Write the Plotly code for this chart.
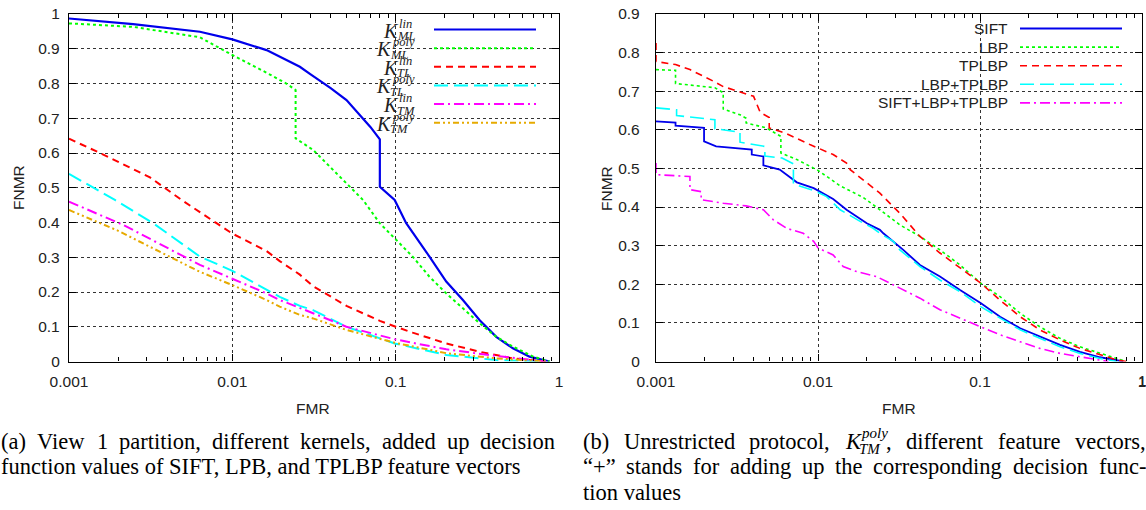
import plotly.graph_objects as go

W, H = 1146, 510


def px(x):
    return x / W


def py(y):
    return 1 - y / H


# ---------------- data: left panel (a) ----------------
fmr_ml_lin = [0.001, 0.00247, 0.00633, 0.01, 0.0162, 0.0259, 0.03, 0.04, 0.05, 0.06, 0.07, 0.08, 0.08,
              0.0986, 0.116, 0.161, 0.204, 0.258, 0.327, 0.413, 0.522, 0.66, 0.875]
fnmr_ml_lin = [0.987, 0.971, 0.949, 0.927, 0.896, 0.848, 0.827, 0.787, 0.7525, 0.71, 0.675, 0.639, 0.503,
               0.465, 0.398, 0.302, 0.230, 0.177, 0.119, 0.071, 0.038, 0.014, 0.0]

fmr_ml_poly = [0.001, 0.00247, 0.00633, 0.01, 0.0162, 0.0214, 0.0244, 0.0244, 0.0312, 0.0499, 0.0631,
               0.0799, 0.0986, 0.127, 0.161, 0.204, 0.258, 0.327, 0.413, 0.522, 0.695, 0.875]
fnmr_ml_poly = [0.973, 0.963, 0.933, 0.882, 0.831, 0.80, 0.781, 0.642, 0.609, 0.513, 0.465,
                0.398, 0.355, 0.302, 0.244, 0.196, 0.153, 0.110, 0.071, 0.043, 0.014, 0.0]

fmr_tl_lin = [0.001, 0.00155, 0.00313, 0.00489, 0.008, 0.01, 0.0162, 0.0195, 0.0259, 0.0312, 0.05,
              0.08, 0.1, 0.127, 0.204, 0.327, 0.522, 0.83]
fnmr_tl_lin = [0.641, 0.60, 0.53, 0.465, 0.398, 0.368, 0.318, 0.289, 0.25, 0.217, 0.16,
               0.117, 0.10, 0.083, 0.052, 0.028, 0.009, 0.0]

fmr_tl_poly = [0.001, 0.00191, 0.00328, 0.00633, 0.01, 0.0162, 0.0195, 0.0259, 0.0312, 0.0499, 0.0986,
               0.204, 0.413, 0.83]
fnmr_tl_poly = [0.54, 0.465, 0.398, 0.302, 0.261, 0.206, 0.186, 0.16, 0.148, 0.10, 0.052,
                0.019, 0.004, 0.0]

fmr_tm_lin = [0.001, 0.00215, 0.00633, 0.01, 0.0162, 0.0195, 0.0259, 0.0312, 0.0499, 0.0986, 0.204,
              0.413, 0.83]
fnmr_tm_lin = [0.46, 0.393, 0.278, 0.239, 0.196, 0.177, 0.153, 0.139, 0.100, 0.064, 0.035,
               0.016, 0.0]

fmr_tm_poly = [0.001, 0.00196, 0.00633, 0.01, 0.0162, 0.0195, 0.0259, 0.0312, 0.0499, 0.0986, 0.204,
               0.413, 0.83]
fnmr_tm_poly = [0.436, 0.378, 0.258, 0.22, 0.177, 0.158, 0.134, 0.124, 0.091, 0.054, 0.024,
                0.009, 0.0]

# ---------------- data: right panel (b) ----------------
fmr_sift = [0.001, 0.00132, 0.00132, 0.00198, 0.00198, 0.00235, 0.0039, 0.0039, 0.0046, 0.0046, 0.0058,
            0.0066, 0.0074, 0.0094, 0.0124, 0.0150, 0.0182, 0.020, 0.0241, 0.0253, 0.0336, 0.0426,
            0.0566, 0.0753, 0.1014, 0.133, 0.177, 0.234, 0.312, 0.414, 0.551, 0.767]
fnmr_sift = [0.622, 0.619, 0.611, 0.605, 0.570, 0.557, 0.549, 0.536, 0.531, 0.508, 0.497,
             0.479, 0.464, 0.449, 0.421, 0.393, 0.371, 0.358, 0.341, 0.332, 0.289, 0.250,
             0.220, 0.185, 0.151, 0.116, 0.086, 0.064, 0.043, 0.025, 0.011, 0.0]

fmr_lbp = [0.001, 0.00132, 0.00132, 0.00231, 0.0026, 0.0026, 0.0033, 0.0036, 0.0036, 0.0048, 0.0059,
           0.0059, 0.0074, 0.01, 0.0137, 0.019, 0.0241, 0.032, 0.0426, 0.0566, 0.0753, 0.101, 0.133,
           0.177, 0.234, 0.312, 0.414, 0.551, 0.74, 0.8]
fnmr_lbp = [0.756, 0.754, 0.720, 0.709, 0.696, 0.654, 0.639, 0.630, 0.618, 0.605, 0.583,
            0.540, 0.523, 0.495, 0.455, 0.425, 0.393, 0.354, 0.324, 0.289, 0.250, 0.203, 0.168,
            0.125, 0.090, 0.060, 0.038, 0.021, 0.004, 0.0]

fmr_tplbp = [0.001, 0.001, 0.00132, 0.00162, 0.00226, 0.0026, 0.004, 0.0044, 0.0050, 0.0050, 0.0064,
             0.0089, 0.0124, 0.015, 0.0158, 0.019, 0.0241, 0.032, 0.0426, 0.0566, 0.0753, 0.101,
             0.133, 0.177, 0.234, 0.312, 0.414, 0.551, 0.7, 0.8]
fnmr_tplbp = [0.825, 0.777, 0.769, 0.756, 0.726, 0.712, 0.687, 0.645, 0.632, 0.605, 0.590,
              0.562, 0.536, 0.514, 0.497, 0.471, 0.436, 0.384, 0.324, 0.281, 0.242, 0.203,
              0.159, 0.116, 0.082, 0.056, 0.034, 0.017, 0.004, 0.0]

fmr_lbp_tplbp = [0.001, 0.00134, 0.00134, 0.00231, 0.00231, 0.0033, 0.0033, 0.0047, 0.0047, 0.006,
                 0.00705, 0.00705, 0.0085, 0.0098, 0.0113, 0.0137, 0.0182, 0.0219, 0.0241, 0.0292,
                 0.032, 0.0426, 0.0566, 0.0753, 0.101, 0.133, 0.177, 0.234, 0.312, 0.414, 0.551, 0.70]
fnmr_lbp_tplbp = [0.657, 0.652, 0.637, 0.626, 0.603, 0.594, 0.568, 0.557, 0.532, 0.527,
                  0.512, 0.460, 0.449, 0.440, 0.427, 0.393, 0.363, 0.345, 0.332, 0.311,
                  0.289, 0.246, 0.211, 0.181, 0.142, 0.112, 0.082, 0.060, 0.038, 0.021, 0.008, 0.0]

fmr_all = [0.001, 0.001, 0.00162, 0.00162, 0.0019, 0.0019, 0.0026, 0.0036, 0.0046, 0.0053, 0.0064,
           0.0081, 0.0094, 0.01, 0.0124, 0.0143, 0.0173, 0.023, 0.032, 0.0426, 0.0566, 0.0753,
           0.101, 0.133, 0.177, 0.234, 0.312, 0.414, 0.551, 0.62]
fnmr_all = [0.514, 0.484, 0.479, 0.445, 0.440, 0.419, 0.410, 0.403, 0.393, 0.367, 0.345,
            0.332, 0.311, 0.294, 0.276, 0.246, 0.233, 0.220, 0.190, 0.164, 0.134, 0.112,
            0.090, 0.069, 0.051, 0.034, 0.021, 0.012, 0.004, 0.0]

x_tickvals = [0.001, 0.01, 0.1, 1]
x_ticktext = ["0.001", "0.01", "0.1", "1"]
left_yticks = [0, 0.1, 0.2, 0.3, 0.4, 0.5, 0.6, 0.7, 0.8, 0.9, 1]
left_yticktext = ["0", "0.1", "0.2", "0.3", "0.4", "0.5", "0.6", "0.7", "0.8", "0.9", "1"]
right_yticks = [0, 0.1, 0.2, 0.3, 0.4, 0.5, 0.6, 0.7, 0.8, 0.9]
right_yticktext = ["0", "0.1", "0.2", "0.3", "0.4", "0.5", "0.6", "0.7", "0.8", "0.9"]

# (sup, sub) of the K symbols in legend (a)
left_sup = ["lin", "poly", "lin", "poly", "lin", "poly"]
left_sub = ["ML", "ML", "TL", "TL", "TM", "TM"]
right_names = ["SIFT", "LBP", "TPLBP", "LBP+TPLBP", "SIFT+LBP+TPLBP"]

caption_a = ["(a) View 1 partition, different kernels, added up decision",
             "function values of SIFT, LPB, and TPLBP feature vectors"]
caption_b = ["(b) Unrestricted protocol,", "different feature vectors,",
             "\u201c+\u201d stands for adding up the corresponding decision func-",
             "tion values"]

# ---------------- styles ----------------
BLUE = "rgb(0,0,235)"
GREEN = "rgb(0,255,0)"
RED = "rgb(255,0,0)"
CYAN = "rgb(0,255,255)"
MAGENTA = "rgb(255,0,255)"
GOLD = "rgb(230,170,0)"
styles = [
    (BLUE, "solid", 2.2),
    (GREEN, "3px,3px", 2),
    (RED, "7px,5px", 2),
    (CYAN, "14px,6px", 2),
    (MAGENTA, "10px,4px,2px,4px", 2),
    (GOLD, "6px,3px,2px,3px,2px,3px", 2),
]

left_data = [(fmr_ml_lin, fnmr_ml_lin), (fmr_ml_poly, fnmr_ml_poly), (fmr_tl_lin, fnmr_tl_lin),
             (fmr_tl_poly, fnmr_tl_poly), (fmr_tm_lin, fnmr_tm_lin), (fmr_tm_poly, fnmr_tm_poly)]
right_data = [(fmr_sift, fnmr_sift), (fmr_lbp, fnmr_lbp), (fmr_tplbp, fnmr_tplbp),
              (fmr_lbp_tplbp, fnmr_lbp_tplbp), (fmr_all, fnmr_all)]

fig = go.Figure()
for i, (xs, ys) in enumerate(left_data):
    c, d, w = styles[i]
    fig.add_trace(go.Scatter(x=xs, y=ys, mode="lines", line=dict(color=c, dash=d, width=w),
                             xaxis="x", yaxis="y", showlegend=False, hoverinfo="skip"))
for i, (xs, ys) in enumerate(right_data):
    c, d, w = styles[i]
    fig.add_trace(go.Scatter(x=xs, y=ys, mode="lines", line=dict(color=c, dash=d, width=w - 0.4),
                             xaxis="x2", yaxis="y2", showlegend=False, hoverinfo="skip"))

minor_vals = [m * 10 ** e for e in (-3, -2, -1) for m in range(2, 10)]
sans = "Liberation Sans, Arial, sans-serif"
serif = "Liberation Serif, Times New Roman, serif"
tickfont = dict(family=sans, size=15.5, color="#222")


def xaxis_cfg(domain, anchor):
    return dict(type="log", range=[-3, 0], domain=domain, anchor=anchor, automargin=False,
                tickmode="array", tickvals=x_tickvals, ticktext=x_ticktext,
                ticks="inside", ticklen=7, tickcolor="black", tickwidth=1,
                minor=dict(ticks="inside", ticklen=4, tickcolor="black", tickvals=minor_vals, showgrid=False),
                showline=True, linecolor="black", linewidth=1.3, mirror="ticks",
                showgrid=True, gridcolor="#333", griddash="dot", gridwidth=1,
                zeroline=False, tickfont=tickfont, ticklabelstandoff=6, ticklabeloverflow="allow")


def yaxis_cfg(domain, anchor, rng, vals, text, standoff):
    return dict(range=rng, domain=domain, anchor=anchor, automargin=False,
                tickmode="array", tickvals=vals, ticktext=text,
                ticks="inside", ticklen=7, tickcolor="black",
                showline=True, linecolor="black", linewidth=1.3, mirror="ticks",
                showgrid=True, gridcolor="#333", griddash="dot", gridwidth=1,
                zeroline=False, tickfont=tickfont, ticklabelstandoff=standoff)


ydom = [py(361.5), py(14)]
fig.update_layout(
    width=W, height=H, margin=dict(l=0, r=0, t=0, b=0, autoexpand=False),
    paper_bgcolor="white", plot_bgcolor="white",
    xaxis=xaxis_cfg([px(69), px(559)], "y"),
    yaxis=yaxis_cfg(ydom, "x", [0, 1], left_yticks, left_yticktext, 5),
    xaxis2=xaxis_cfg([px(656), px(1142)], "y2"),
    yaxis2=yaxis_cfg(ydom, "x2", [0, 0.9], right_yticks, right_yticktext, 12),
)

shapes = []
annotations = []
# key boxes hiding the grid
shapes.append(dict(type="rect", xref="paper", yref="paper", x0=px(373), x1=px(547), y0=py(131), y1=py(15),
                   fillcolor="white", line=dict(width=0), layer="between"))
shapes.append(dict(type="rect", xref="paper", yref="paper", x0=px(852), x1=px(1141), y0=py(113), y1=py(15),
                   fillcolor="white", line=dict(width=0), layer="between"))


def ann(text, x, y, anchor="left", family=serif, size=22, color="black", angle=0, yanchor="middle"):
    annotations.append(dict(text=text, x=px(x), y=py(y), xref="paper", yref="paper", textangle=angle,
                            xanchor=anchor, yanchor=yanchor, showarrow=False, borderpad=0, borderwidth=0,
                            font=dict(family=family, size=size, color=color)))


# legend (a)
for i in range(6):
    yc = 29.5 + 18.65 * i
    c, d, w = styles[i]
    shapes.append(dict(type="line", xref="paper", yref="paper", x0=px(434), x1=px(536), y0=py(yc), y1=py(yc),
                       line=dict(color=c, dash=d, width=w)))
    kr = 399 if left_sup[i] == "lin" else 392
    ann("<i>K</i>", kr, yc + 1, anchor="right", size=20, color="#222")
    ann("<i>%s</i>" % left_sup[i], kr, yc - 6, size=12.5, color="#222")
    ann("<i>%s</i>" % left_sub[i], kr - 2, yc + 6.5, size=12.5, color="#222")

# legend (b)
for i in range(5):
    yc = 28.5 + 18.6 * i
    c, d, w = styles[i]
    shapes.append(dict(type="line", xref="paper", yref="paper", x0=px(1020), x1=px(1122), y0=py(yc), y1=py(yc),
                       line=dict(color=c, dash=d, width=w - 0.4)))
    ann(right_names[i], 1008, yc, anchor="right", family=sans, size=15.5, color="#222")

# axis titles
for xx in (18, 606):
    ann("FNMR", xx, 188, anchor="center", family=sans, size=15.5, color="#222", angle=-90)
for xx in (313, 899):
    ann("FMR", xx, 408, anchor="center", family=sans, size=15.5, color="#222")

# last tick label of panel (b), which plotly hides at the page edge
ann(x_ticktext[-1], 1142, 380, anchor="center", family=sans, size=15.5, color="#222")

# ---- captions with LaTeX-like justification (Times metrics) ----
TW = {" ": 250, "(": 333, ")": 333, ",": 250, "-": 333, "+": 564, "\u201c": 444, "\u201d": 444,
      "a": 444, "b": 500, "c": 444, "d": 500, "e": 444, "f": 333, "g": 500, "h": 500, "i": 278, "j": 278,
      "k": 500, "l": 278, "m": 778, "n": 500, "o": 500, "p": 500, "q": 500, "r": 333, "s": 389, "t": 278,
      "u": 500, "v": 500, "w": 722, "x": 500, "y": 500, "z": 444,
      "A": 722, "B": 667, "C": 667, "D": 722, "E": 611, "F": 556, "G": 722, "H": 722, "I": 333, "L": 611,
      "M": 889, "N": 722, "O": 722, "P": 556, "R": 667, "S": 556, "T": 611, "U": 722, "V": 722}
CAP = 22.5


def tw(s, size=CAP):
    return sum(TW.get(ch, 500) for ch in s) * size / 1000.0


def justify(words, x0, x1, y):
    widths = [tw(wd) for wd in words]
    gap = (x1 - x0 - sum(widths)) / (len(words) - 1)
    x = x0
    for k, (wd, wdt) in enumerate(zip(words, widths)):
        if k == len(words) - 1:
            ann(wd, x1, y, anchor="right", size=CAP)
        else:
            ann(wd, x, y, size=CAP)
        x += wdt + gap


line_y = [441, 466, 492]
justify(caption_a[0].split(" "), 1, 555, line_y[0])
ann(caption_a[1], 1, line_y[1], size=CAP)

# (b) line 1 with the math symbol K_TM^poly
wb = caption_b[0].split(" ") + ["MATH"] + caption_b[1].split(" ")
k_w = 667 * CAP / 1000 + 1
scr_w = (500 + 500 + 278 + 444) * 15 / 1000
math_w = k_w + scr_w + tw(",")
widths = [tw(w) if w != "MATH" else math_w for w in wb]
gap = (1146 - 583 - sum(widths)) / (len(wb) - 1)
x = 583
for k, (w, wdt) in enumerate(zip(wb, widths)):
    if w == "MATH":
        ann("<i>K</i>", x, line_y[0] + 0.5, size=CAP)
        ann("<i>poly</i>", x + k_w, line_y[0] - 8, size=15)
        ann("<i>TM</i>", x + k_w - 2, line_y[0] + 8, size=15)
        ann(",", x + k_w + scr_w, line_y[0], size=CAP)
    elif k == len(wb) - 1:
        ann(w, 1146, line_y[0], anchor="right", size=CAP)
    else:
        ann(w, x, line_y[0], size=CAP)
    x += wdt + gap
justify(caption_b[2].split(" "), 583, 1146, line_y[1])
ann(caption_b[3], 583, line_y[2], size=CAP)

fig.update_layout(shapes=shapes, annotations=annotations)
fig.write_html("out.html", config={"displayModeBar": False},
               post_script="document.body.style.margin='0';document.body.style.padding='0';")
